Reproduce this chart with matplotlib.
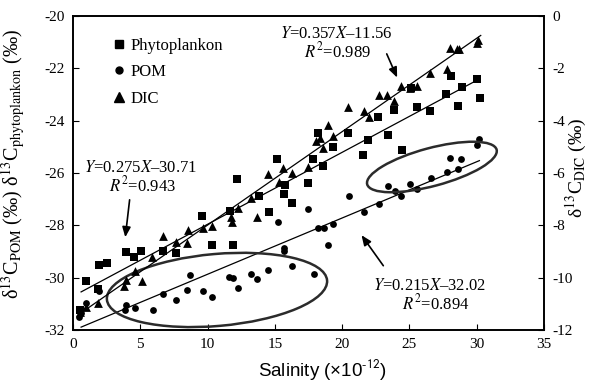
import matplotlib
matplotlib.use("Agg")
import matplotlib.pyplot as plt
import matplotlib.transforms as mtransforms
from matplotlib.patches import Ellipse
from matplotlib.lines import Line2D
import numpy as np

plt.rcParams['font.family'] = ['Liberation Serif', 'DejaVu Serif']
plt.rcParams['mathtext.fontset'] = 'stix'
plt.rcParams['axes.unicode_minus'] = False

# ---------------- data ----------------
phyto_x = [0.50, 0.99, 1.86, 1.93, 2.53, 3.92, 4.53, 5.07, 6.69, 7.63, 9.60, 10.30,
           11.90, 11.66, 12.21, 13.80, 14.56, 15.15, 15.66, 16.30, 15.75, 17.43, 17.85,
           18.22, 18.60, 19.29, 20.45, 21.57, 21.94, 22.70, 23.43, 23.85, 24.42, 25.09,
           25.53, 26.52, 27.71, 28.08, 28.63, 28.88, 29.99, 30.24]
phyto_y = [-31.24, -30.13, -30.44, -29.53, -29.43, -29.03, -29.20, -28.97, -28.98, -29.07,
           -27.64, -28.75, -28.75, -27.46, -26.24, -26.86, -27.50, -25.45, -26.81, -27.13,
           -26.46, -26.40, -25.46, -24.46, -25.72, -25.02, -24.46, -25.31, -24.74, -23.86,
           -24.54, -23.59, -25.12, -22.74, -23.47, -23.63, -22.99, -22.29, -23.44, -22.71,
           -22.40, -23.15]

pom_x = [0.45, 0.62, 0.94, 1.90, 3.84, 3.96, 4.58, 5.94, 6.71, 7.63, 8.69, 8.45, 9.63,
         10.30, 11.61, 11.86, 12.28, 13.20, 13.69, 14.51, 15.25, 15.68, 15.68, 16.25,
         17.44, 17.90, 18.18, 18.65, 19.34, 18.92, 20.53, 21.64, 22.76, 23.40, 23.95,
         24.35, 25.06, 25.58, 26.57, 27.76, 28.00, 28.63, 28.83, 29.99, 30.19]
pom_y = [-31.49, -31.35, -30.98, -30.50, -31.24, -31.04, -31.17, -31.24, -30.62, -30.85,
         -29.90, -30.47, -30.51, -30.73, -29.96, -30.02, -30.38, -29.86, -30.06, -29.71,
         -27.87, -28.88, -29.00, -29.55, -27.39, -29.87, -28.11, -28.11, -27.95, -28.75,
         -26.87, -27.48, -27.18, -26.50, -26.69, -26.88, -26.42, -26.60, -26.18, -25.95,
         -25.44, -25.86, -25.48, -24.94, -24.71]

# DIC values on the right-hand axis (per mil)
dic_x = [0.50, 0.99, 1.86, 3.77, 3.96, 4.58, 5.13, 5.89, 6.69, 7.67, 8.57, 8.45, 9.68,
         10.30, 11.75, 11.79, 12.28, 13.20, 13.69, 14.47, 15.33, 15.63, 16.25, 17.48,
         18.05, 18.35, 18.60, 19.29, 18.97, 20.45, 21.62, 21.99, 22.72, 23.35, 23.85,
         24.35, 25.04, 25.58, 26.52, 27.76, 28.00, 28.50, 28.70, 29.99, 30.11]
dic_y = [-11.30, -11.11, -10.98, -10.32, -10.09, -9.75, -10.13, -9.22, -8.40, -8.63,
         -8.18, -8.69, -8.11, -8.03, -7.70, -7.86, -7.35, -6.97, -7.67, -6.04, -6.33,
         -5.82, -6.01, -5.76, -4.79, -4.67, -5.03, -4.59, -4.17, -3.48, -3.63, -3.87,
         -3.02, -3.03, -3.25, -2.68, -2.74, -2.66, -2.17, -2.04, -1.21, -1.25, -1.25,
         -1.02, -0.92]

# regression fits (slope, intercept, x-range)
fit_phyto = (0.275, -30.71, 0.6, 30.2)
fit_pom = (0.215, -32.02, 0.6, 30.2)
fit_dic = (0.357, -11.56, 0.5, 30.3)

xticks = [0, 5, 10, 15, 20, 25, 30, 35]
yticks_left = [-32, -30, -28, -26, -24, -22, -20]
yticks_right = [-12, -10, -8, -6, -4, -2, 0]

# ---------------- figure ----------------
fig = plt.figure(figsize=(5.97, 3.85), dpi=100)
ax = fig.add_axes([0.1223, 0.1429, 0.7889, 0.8155])
ax2 = ax.twinx()

ax.set_xlim(0, 35)
ax.set_ylim(-32, -20)
ax2.set_ylim(-12, 0)

ax.scatter(phyto_x, phyto_y, marker='s', s=30, color='black', linewidths=0, zorder=3)
ax.scatter(pom_x, pom_y, marker='o', s=24, color='black', linewidths=0, zorder=3)
ax2.scatter(dic_x, dic_y, marker='^', s=40, color='black', linewidths=0, zorder=3)

for a, (m, b, x0, x1) in [(ax, fit_phyto), (ax, fit_pom), (ax2, fit_dic)]:
    xx = np.array([x0, x1])
    a.plot(xx, m * xx + b, color='black', lw=0.9, zorder=2)

# ellipses drawn in pixel units around data-space centres
def px_ellipse(cx, cy, wpx, hpx, ang):
    tr = fig.dpi_scale_trans + mtransforms.ScaledTranslation(cx, cy, ax.transData)
    e = Ellipse((0, 0), wpx / 100, hpx / 100, angle=ang, transform=tr,
                fill=False, edgecolor='#2b2b2b', lw=1.8, zorder=4)
    ax.add_patch(e)

px_ellipse(10.70, -30.47, 221, 72, 5)
px_ellipse(26.67, -25.77, 134, 38, 15)

# ticks & spines
for a in (ax, ax2):
    for sp in a.spines.values():
        sp.set_linewidth(1.2)
ax.set_xticks(xticks)
ax.set_yticks(yticks_left)
ax2.set_yticks(yticks_right)
ax.tick_params(axis='both', direction='in', length=4, width=0.8, labelsize=11, pad=6)
ax2.tick_params(axis='y', direction='in', length=4, width=0.8, labelsize=11, pad=6)

# labels
ax.set_xlabel(r'Salinity (×10$^{\text{-12}}$)', family=['Liberation Sans'], fontsize=13.5,
              math_fontfamily='stixsans')
ax.xaxis.set_label_coords(0.529, -0.085)
ax.set_ylabel(r'δ$^{13}$C$_{\mathrm{POM}}$ (‰) δ$^{13}$C$_{\mathrm{phytoplankon}}$ (‰)',
              fontsize=14.5)
ax.yaxis.set_label_coords(-0.098, 0.53)
ax2.set_ylabel(r'δ$^{13}$C$_{\mathrm{DIC}}$ (‰)', fontsize=14, rotation=90)
ax2.yaxis.set_label_coords(1.042, 0.516)

# annotations
def eq(a, tx, ty, rx, ry, s1, s2, tail, tip):
    a.text(tx, ty, s1, ha='center', va='center', fontsize=12, zorder=5)
    a.text(rx, ry, s2, ha='center', va='center', fontsize=12, zorder=5)
    a.annotate('', xy=tip, xytext=tail,
               arrowprops=dict(arrowstyle='-|>,head_length=0.6,head_width=0.25',
                               color='black', lw=1.2))

eq(ax, 4.98, -25.81, 5.13, -26.46, r'$Y$=0.275$X$–30.71', r'$R^2$=0.943',
   (4.23, -26.92), (3.86, -28.56))
eq(ax, 19.54, -20.70, 19.69, -21.35, r'$Y$=0.357$X$–11.56', r'$R^2$=0.989',
   (23.23, -21.35), (24.17, -22.45))
eq(ax, 26.52, -30.32, 26.97, -31.00, r'$Y$=0.215$X$–32.02', r'$R^2$=0.894',
   (23.18, -29.63), (21.32, -28.29))

# legend
handles = [Line2D([], [], marker='s', ls='none', color='black', markersize=5.5),
           Line2D([], [], marker='o', ls='none', color='black', markersize=5),
           Line2D([], [], marker='^', ls='none', color='black', markersize=6.5)]
ax2.legend(handles, ['Phytoplankon', 'POM', 'DIC'], loc='upper left',
           bbox_to_anchor=(0.087, 0.93), frameon=False, fontsize=12,
           handlelength=0.6, handletextpad=0.4, labelspacing=0.62,
           borderpad=0, borderaxespad=0)

fig.savefig('out.png', dpi=100)
